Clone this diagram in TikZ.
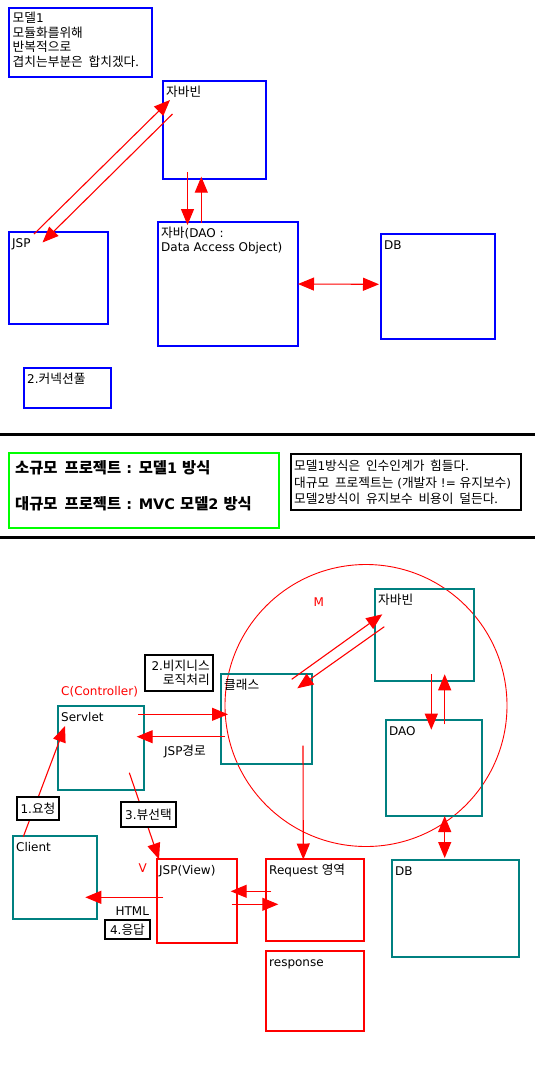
\documentclass[tikz,border=0pt]{standalone}
\usepackage{fontspec}
\setmainfont{DejaVu Sans}
\newfontfamily\kr{Noto Sans CJK KR}[Scale=1.06, WordSpace=2]
\newcommand{\hg}[1]{{\kr #1}}
\usepackage{tikz}
\usetikzlibrary{arrows.meta, positioning}
\definecolor{boxblue}{RGB}{0,0,255}
\definecolor{boxteal}{RGB}{0,128,128}
\definecolor{boxred}{RGB}{255,0,0}
\definecolor{boxgreen}{RGB}{0,255,0}
\tikzset{
    box/.style={draw, line width=1.1pt, inner sep=0pt, outer sep=0pt},
    bluebox/.style={box, draw=boxblue},
    tealbox/.style={box, draw=boxteal},
    redbox/.style={box, draw=boxred},
    stepbox/.style={box, draw=black, fill=white, font=\fontsize{12}{14}\selectfont},
    lbl/.style={anchor=base west, inner sep=0pt, align=left, font=\fontsize{12}{14.5}\selectfont},
    redlbl/.style={anchor=base, inner sep=0pt, text=boxred, font=\fontsize{12}{14.5}\selectfont},
    rule/.style={line width=3pt, draw=black},
}
\tikzstyle{arrow} = [-{Triangle[length=16pt,width=13pt]}, line width=1.1pt, draw=boxred]
\tikzstyle{dblarrow} = [{Triangle[length=16pt,width=13pt]}-{Triangle[length=16pt,width=13pt]}, line width=1.1pt, draw=boxred]

\begin{document}
\begin{tikzpicture}[x=1pt, y=-1pt]
    \useasboundingbox (0,0) rectangle (535,1071);

    % model 1 (shift of a multi-line text is to its last baseline)
    \node[bluebox, minimum width=143, minimum height=69] (note) at (80.5,42.5) {};
    \node[bluebox, minimum width=103, minimum height=98] (bean1) at (214.5,130) {};
    \node[bluebox, minimum width=99, minimum height=92] (jsp1) at (58.5,278) {};
    \node[bluebox, minimum width=140, minimum height=124] (dao1) at (228,284) {};
    \node[bluebox, minimum width=114, minimum height=105] (db1) at (438,286.5) {};
    \node[bluebox, minimum width=87, minimum height=40] (pool) at (67.5,388) {};
    \node[lbl] (note-t) at ([shift={(3.5,58)}]note.north west)
        {\hg{모델}1\\\hg{모듈화를위해}\\\hg{반복적으로}\\\hg{겹치는부분은 합치겠다.}};
    \node[lbl] (bean1-t) at ([shift={(3,15)}]bean1.north west) {\hg{자바빈}};
    \node[lbl] (jsp1-t) at ([shift={(3,15)}]jsp1.north west) {JSP};
    \node[lbl] (dao1-t) at ([shift={(3,29.5)}]dao1.north west) {\hg{자바}(DAO :\\Data Access Object)};
    \node[lbl] (db1-t) at ([shift={(3,15)}]db1.north west) {DB};
    \node[lbl] (pool-t) at ([shift={(3,15)}]pool.north west) {2.\hg{커넥션풀}};

    \draw[arrow] ([shift={(25,2)}]jsp1.north west) -- ([shift={(7,19)}]bean1.north west);
    \draw[arrow] ([shift={(9.5,33)}]bean1.north west) -- ([shift={(33.5,10.5)}]jsp1.north west);
    \draw[arrow] ([shift={(24.5,-7)}]bean1.south west) -- ([shift={(29.5,3)}]dao1.north west);
    \draw[arrow] ([shift={(43.3,0.5)}]dao1.north west) -- ([shift={(38.3,-2.3)}]bean1.south west);
    \draw[dblarrow] (dao1.east) -- ([shift={(-2,-2.2)}]db1.west);

    % summary
    \draw[rule] (0,434.5) -- (535,434.5);
    \draw[rule] (0,537.5) -- (535,537.5);
    \node[box, draw=boxgreen, line width=2.4pt, minimum width=270, minimum height=75] (summary) at (144,490.5) {};
    \node[box, draw=black, minimum width=230, minimum height=56] (remark) at (406,482) {};
    \node[lbl, font=\bfseries\fontsize{14.5}{36}\selectfont] (summary-t) at ([shift={(6,56.5)}]summary.north west)
        {\hg{소규모 프로젝트} : \hg{모델}1 \hg{방식}\\\hg{대규모 프로젝트} : MVC \hg{모델}2 \hg{방식}};
    \node[lbl, font=\fontsize{12}{16.5}\selectfont] (remark-t) at ([shift={(3,49.5)}]remark.north west)
        {\hg{모델}1\hg{방식은 인수인계가 힘들다.}\\\hg{대규모 프로젝트는} (\hg{개발자} != \hg{유지보수})\\\hg{모델}2\hg{방식이 유지보수 비용이 덜든다.}};

    % model 2 (MVC)
    \node[circle, draw=boxred, line width=0.9pt, inner sep=0pt, minimum size=282] (model) at (366,705.5) {};
    \node[redlbl] (model-t) at (318.7,606) {M};
    \node[tealbox, minimum width=99, minimum height=92] (bean2) at (424.5,635) {};
    \node[tealbox, minimum width=91, minimum height=90] (cls) at (266.5,719) {};
    \node[tealbox, minimum width=96, minimum height=96] (dao2) at (434,768) {};
    \node[tealbox, minimum width=127, minimum height=97] (db2) at (455.5,908.5) {};
    \node[tealbox, minimum width=86, minimum height=84] (servlet) at (101,748) {};
    \node[tealbox, minimum width=84, minimum height=83] (client) at (55,877.5) {};
    \node[redbox, minimum width=80, minimum height=84] (view) at (197,901) {};
    \node[redbox, minimum width=98, minimum height=82] (req) at (315,900) {};
    \node[redbox, minimum width=98, minimum height=80] (resp) at (315,991) {};
    \node[lbl] (bean2-t) at ([shift={(3,15)}]bean2.north west) {\hg{자바빈}};
    \node[lbl] (cls-t) at ([shift={(3,15)}]cls.north west) {\hg{클래스}};
    \node[lbl] (dao2-t) at ([shift={(3,15)}]dao2.north west) {DAO};
    \node[lbl] (db2-t) at ([shift={(3,15)}]db2.north west) {DB};
    \node[lbl] (servlet-t) at ([shift={(3,15)}]servlet.north west) {Servlet};
    \node[lbl] (client-t) at ([shift={(3,15)}]client.north west) {Client};
    \node[lbl] (view-t) at ([shift={(2,15)}]view.north west) {JSP(View)};
    \node[lbl] (req-t) at ([shift={(3,15)}]req.north west) {Request \hg{영역}};
    \node[lbl] (resp-t) at ([shift={(3,15)}]resp.north west) {response};
    \node[redlbl, anchor=base west] (ctrl-t) at (61,695.5) {C(Controller)};
    \node[redlbl] (v-t) at (142.7,872.7) {V};
    \node[lbl, anchor=base] (path-t) at (185,755) {JSP\hg{경로}};
    \node[lbl, anchor=base] (html-t) at (132.3,915.4) {HTML};

    \draw[arrow] ([shift={(10.3,0.7)}]client.north west) -- ([shift={(7,20)}]servlet.north west);
    \draw[arrow] ([shift={(-6,8.3)}]servlet.north east) -- ([shift={(7,40.3)}]cls.north west);
    \draw[arrow] ([shift={(4,62.7)}]cls.north west) -- ([shift={(-7.3,30.7)}]servlet.north east);
    \draw[arrow] ([shift={(71.3,-17.3)}]servlet.south west) -- ([shift={(2,0.3)}]view.north west);
    \draw[arrow] ([shift={(6.3,38.3)}]view.north west) -- ([shift={(-11.7,61.3)}]client.north east);
    \draw[arrow] ([shift={(5.3,32.3)}]req.north west) -- ([shift={(-6.3,32.3)}]view.north east);
    \draw[arrow] ([shift={(-5.3,45.3)}]view.north east) -- ([shift={(12.3,45.3)}]req.north west);
    \draw[arrow] ([shift={(-9,-18.3)}]cls.south east) -- ([shift={(37.3,0.5)}]req.north west);
    \draw[arrow] ([shift={(70.7,5.3)}]cls.north west) -- ([shift={(7.3,25.3)}]bean2.north west);
    \draw[arrow] ([shift={(9.3,37.7)}]bean2.north west) -- ([shift={(76.3,14.3)}]cls.north west);
    \draw[arrow] ([shift={(56.3,-6.7)}]bean2.south west) -- ([shift={(45.3,9.7)}]dao2.north west);
    \draw[arrow] ([shift={(58.7,4.3)}]dao2.north west) -- ([shift={(69.7,-6.7)}]bean2.south west);
    \draw[dblarrow] ([shift={(58.7,0)}]dao2.south west) -- ([shift={(52.7,-2)}]db2.north west);

    % step labels
    \node[stepbox, minimum width=68, minimum height=36] (biz) at (179,673) {};
    \node[lbl, anchor=base east, align=right, font=\fontsize{12}{14}\selectfont] (biz-t)
        at ([shift={(-3,29)}]biz.north east) {2.\hg{비지니스}\\\hg{로직처리}};
    \node[stepbox, minimum width=42, minimum height=23] (step1) at (38,808.5) {1.\hg{요청}};
    \node[stepbox, minimum width=55, minimum height=25] (step3) at (148.5,814.5) {3.\hg{뷰선택}};
    \node[stepbox, minimum width=45, minimum height=19] (step4) at (127.5,929.5) {4.\hg{응답}};
\end{tikzpicture}
\end{document}
